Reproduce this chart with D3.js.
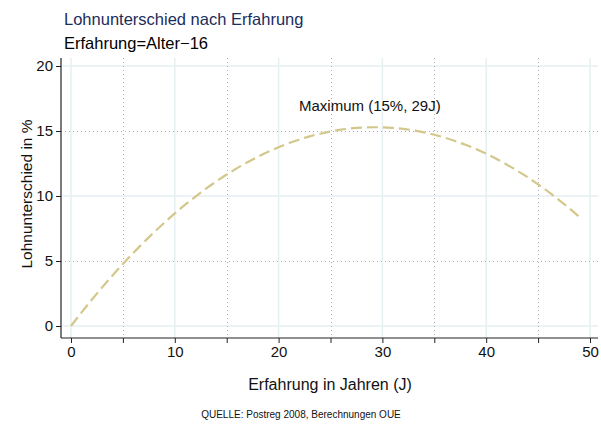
<!DOCTYPE html>
<html><head><meta charset="utf-8">
<script src="https://cdn.jsdelivr.net/npm/d3@7"></script>
<style>body{margin:0;background:#fff}svg{display:block}text{font-family:"Liberation Sans",Arial,sans-serif}</style>
</head><body><svg id="c" width="601" height="426"></svg>
<script>
const experience = d3.range(0, 50);
const wageGap = [0,1.03,2.02,2.97,3.89,4.77,5.62,6.43,7.21,7.95,8.66,9.33,9.96,10.56,11.12,11.65,12.14,12.60,13.02,13.40,13.75,14.07,14.34,14.59,14.79,14.96,15.10,15.20,15.26,15.29,15.28,15.24,15.16,15.05,14.90,14.71,14.49,14.23,13.94,13.61,13.25,12.85,12.41,11.94,11.44,10.89,10.32,9.70,9.06,8.37];
const xMajor = [0,10,20,30,40,50];
const xMinor = [5,15,25,35,45];
const yTicks = [0,5,10,15,20];
const yMajor = [0,10,20];
const yMinor = [5,15];
const title = "Lohnunterschied nach Erfahrung";
const subtitle = "Erfahrung=Alter\u221216";
const xLabel = "Erfahrung in Jahren (J)";
const yLabel = "Lohnunterschied in %";
const note = "QUELLE: Postreg 2008, Berechnungen OUE";
const annot = "Maximum (15%, 29J)";

const svg = d3.select("#c");
const x = d3.scaleLinear().domain([0,50]).range([71,590]);
const y = d3.scaleLinear().domain([0,20]).range([326,66]);
const L = 61, R = 598, T = 58, B = 338;

const g = svg.append("g");
g.selectAll(".gx").data(xMajor).join("line").attr("x1",d=>x(d)).attr("x2",d=>x(d)).attr("y1",T).attr("y2",B).attr("stroke","#e6eff2").attr("stroke-width",1.5);
g.selectAll(".gy").data(yMajor).join("line").attr("y1",d=>y(d)).attr("y2",d=>y(d)).attr("x1",L).attr("x2",R).attr("stroke","#e6eff2").attr("stroke-width",1.5);
g.selectAll(".mx").data(xMinor).join("line").attr("x1",d=>Math.round(x(d))+0.5).attr("x2",d=>Math.round(x(d))+0.5).attr("y1",T).attr("y2",B).attr("stroke","#b0b0b0").attr("stroke-width",1).attr("stroke-dasharray","1,3");
g.selectAll(".my").data(yMinor).join("line").attr("y1",d=>Math.round(y(d))+0.5).attr("y2",d=>Math.round(y(d))+0.5).attr("x1",L).attr("x2",R).attr("stroke","#b0b0b0").attr("stroke-width",1).attr("stroke-dasharray","1,3");

const line = d3.line().x((d,i)=>x(experience[i])).y(d=>y(d)).curve(d3.curveMonotoneX);
svg.append("path").datum(wageGap).attr("d",line).attr("fill","none").attr("stroke","#d3c78c").attr("stroke-width",2.2).attr("stroke-dasharray","11,5");

const xAxis = svg.append("g").attr("transform",`translate(0,${B})`).call(d3.axisBottom(x).tickValues(d3.range(0,55,5)).tickFormat(d=>d%10===0?d:"").tickSize(5).tickPadding(3));
const yAxis = svg.append("g").attr("transform",`translate(${L},0)`).call(d3.axisLeft(y).tickValues(yTicks).tickSize(5).tickPadding(3));
[xAxis,yAxis].forEach(a=>{a.select(".domain").remove();a.selectAll("line").attr("stroke","#222");a.selectAll("text").attr("font-size",15).attr("fill","#111").attr("font-family","Liberation Sans, Arial, sans-serif");});
svg.append("line").attr("x1",L).attr("x2",R).attr("y1",B).attr("y2",B).attr("stroke","#222").attr("stroke-width",1.2);
svg.append("line").attr("x1",L).attr("x2",L).attr("y1",T).attr("y2",B).attr("stroke","#222").attr("stroke-width",1.2);

svg.append("text").attr("x",64).attr("y",25).attr("font-size",16.5).attr("fill","#1c2d5c").text(title);
svg.append("text").attr("x",64).attr("y",49).attr("font-size",16.5).attr("fill","#000").text(subtitle);
svg.append("text").attr("x",299).attr("y",111).attr("font-size",15).attr("fill","#111").text(annot);
svg.append("text").attr("x",330).attr("y",390).attr("text-anchor","middle").attr("font-size",16).attr("fill","#111").text(xLabel);
svg.append("text").attr("transform","translate(32,194) rotate(-90)").attr("text-anchor","middle").attr("font-size",15.5).attr("fill","#111").text(yLabel);
svg.append("text").attr("x",301).attr("y",418).attr("text-anchor","middle").attr("font-size",10).attr("fill","#111").text(note);
</script></body></html>
